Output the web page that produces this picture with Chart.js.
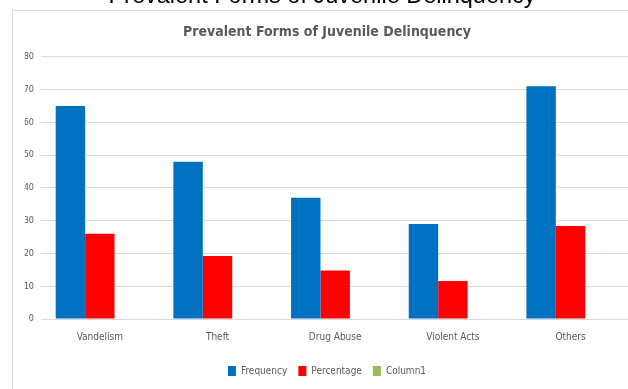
<!DOCTYPE html>
<html>
<head>
<meta charset="utf-8">
<script src="https://cdn.jsdelivr.net/npm/chart.js@4/dist/chart.umd.min.js"></script>
<style>
  html, body { margin: 0; padding: 0; background: #fff; }
  #wrap { width: 628px; height: 389px; overflow: hidden; position: relative; }
  #chart { position: absolute; left: 0; top: 0; }
</style>
</head>
<body>
<div id="wrap">
  <canvas id="chart" width="640" height="389" style="width:640px;height:389px"></canvas>
</div>
<script>
const categories = ['Vandelism', 'Theft', 'Drug Abuse', 'Violent Acts', 'Others'];
const frequency = [65, 48, 37, 29, 71];
const percentage = [26, 19.2, 14.8, 11.6, 28.4];
const column1 = [null, null, null, null, null];
const yTicks = [0, 10, 20, 30, 40, 50, 60, 70, 80];

const pageTitle = 'Prevalent Forms of Juvenile Delinquency';
const smallFont = '"Liberation Sans Narrow", "DejaVu Sans Condensed", "Liberation Sans", sans-serif';

// frame around the chart object plus the heading above it (only its lower part shows)
const framePlugin = {
  id: 'frame',
  beforeDraw(chart) {
    const ctx = chart.ctx;
    ctx.save();
    ctx.fillStyle = '#fff';
    ctx.fillRect(0, 0, chart.width, chart.height);
    ctx.strokeStyle = '#d9d9d9';
    ctx.lineWidth = 1;
    ctx.strokeRect(12.5, 10.5, chart.width + 20, chart.height + 20);
    ctx.fillStyle = '#000';
    ctx.font = '23.5px "Liberation Sans", sans-serif';
    ctx.textAlign = 'center';
    ctx.textBaseline = 'alphabetic';
    ctx.fillText(pageTitle, 322, 3);
    ctx.restore();
  }
};

new Chart(document.getElementById('chart'), {
  type: 'bar',
  data: {
    labels: categories,
    datasets: [
      { label: 'Frequency', data: frequency, backgroundColor: '#0070c0' },
      { label: 'Percentage', data: percentage, backgroundColor: '#ff0000' },
      { label: 'Column1', data: column1, backgroundColor: '#9bbb59' }
    ]
  },
  options: {
    responsive: false,
    animation: false,
    layout: { padding: { left: 24.6, right: 10.6, top: 24, bottom: 3 } },
    datasets: {
      bar: { categoryPercentage: 0.75, barPercentage: 1.0 }
    },
    plugins: {
      title: {
        display: true,
        text: 'Prevalent Forms of Juvenile Delinquency',
        color: '#595959',
        font: { family: smallFont, size: 14, weight: 'bold' },
        padding: { top: 0, bottom: 16 }
      },
      legend: {
        position: 'bottom',
        labels: {
          color: '#595959',
          font: { family: smallFont, size: 10 },
          boxWidth: 8,
          boxHeight: 10,
          padding: 11
        }
      },
      tooltip: { enabled: false }
    },
    scales: {
      x: {
        grid: { display: false, drawTicks: false },
        border: { color: '#d9d9d9' },
        ticks: { color: '#595959', font: { family: smallFont, size: 10 }, padding: 12 }
      },
      y: {
        min: 0,
        max: 80,
        afterBuildTicks(scale) { scale.ticks = yTicks.map(v => ({ value: v })); },
        afterFit(scale) { scale.width = 16.4; },
        grid: { color: '#d9d9d9', drawTicks: false },
        border: { display: false },
        ticks: { color: '#595959', font: { family: smallFont, size: 9 }, padding: 7 }
      }
    }
  },
  plugins: [framePlugin]
});
</script>
</body>
</html>
